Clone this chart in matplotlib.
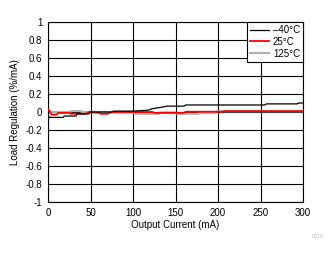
import matplotlib
matplotlib.use("Agg")
import matplotlib.pyplot as plt

plt.rcParams['font.family'] = ['Liberation Sans', 'DejaVu Sans']

x_m40 = [0, 1, 18, 19, 33, 34, 48, 50, 75, 77, 100, 110, 118, 122, 128, 135, 140, 160, 162, 255, 257, 293, 295, 300]
y_m40 = [0.0, -0.06, -0.06, -0.045, -0.045, -0.02, -0.02, 0.0, 0.0, 0.01, 0.01, 0.015, 0.02, 0.035, 0.045, 0.055, 0.065, 0.065, 0.078, 0.078, 0.09, 0.09, 0.1, 0.1]

x_25 = [0, 2, 4, 10, 12, 25, 27, 45, 48, 60, 62, 70, 75, 95, 123, 125, 160, 162, 205, 207, 300]
y_25 = [0.03, 0.01, -0.03, -0.03, -0.01, -0.01, -0.02, -0.02, 0.0, -0.01, -0.02, -0.02, 0.0, 0.0, 0.0, -0.01, -0.01, 0.003, 0.003, 0.01, 0.01]

x_125 = [0, 25, 28, 38, 40, 70, 72, 100, 102, 130, 132, 150, 152, 176, 178, 196, 198, 300]
y_125 = [0.0, 0.0, 0.01, 0.01, 0.0, 0.0, -0.005, -0.005, -0.02, -0.02, -0.005, -0.005, -0.02, -0.02, -0.01, -0.01, 0.008, 0.008]

labels = ['\u201340\u00b0C', '25\u00b0C', '125\u00b0C']

fig = plt.figure(figsize=(3.36, 2.54), dpi=100)
ax = fig.add_axes([48/336, 1-202/254, (303-48)/336, (202-22)/254])

ax.plot(x_m40, y_m40, color='black', lw=0.9, label=labels[0], zorder=4)
ax.plot(x_25, y_25, color='#ff0000', lw=1.3, label=labels[1], zorder=3)
ax.plot(x_125, y_125, color='#b0b0b0', lw=1.6, label=labels[2], zorder=2)

ax.set_xlim(0, 300)
ax.set_ylim(-1, 1)
ax.set_xticks(range(0, 301, 50))
ax.set_yticks([-1, -0.8, -0.6, -0.4, -0.2, 0, 0.2, 0.4, 0.6, 0.8, 1])
ax.set_yticklabels(['-1', '-0.8', '-0.6', '-0.4', '-0.2', '0', '0.2', '0.4', '0.6', '0.8', '1'])
ax.grid(True, color='black', lw=0.8)
ax.tick_params(length=0, labelsize=7, pad=4)
for s in ax.spines.values():
    s.set_linewidth(0.8)
ax.set_xlabel('Output Current (mA)', fontsize=7, labelpad=2)
ax.set_ylabel('Load Regulation (%/mA)', fontsize=7, labelpad=4)

leg = ax.legend(loc='upper right', fontsize=7, frameon=True, fancybox=False,
                edgecolor='black', framealpha=1, borderaxespad=0,
                handlelength=2.0, handletextpad=0.4, labelspacing=0.2,
                borderpad=0.3)
leg.get_frame().set_linewidth(0.8)

fig.text(318/336, 1-236/254, 'D010', fontsize=3.5, color='#bbbbbb', ha='center', va='center')

fig.savefig('out.png', dpi=100)
